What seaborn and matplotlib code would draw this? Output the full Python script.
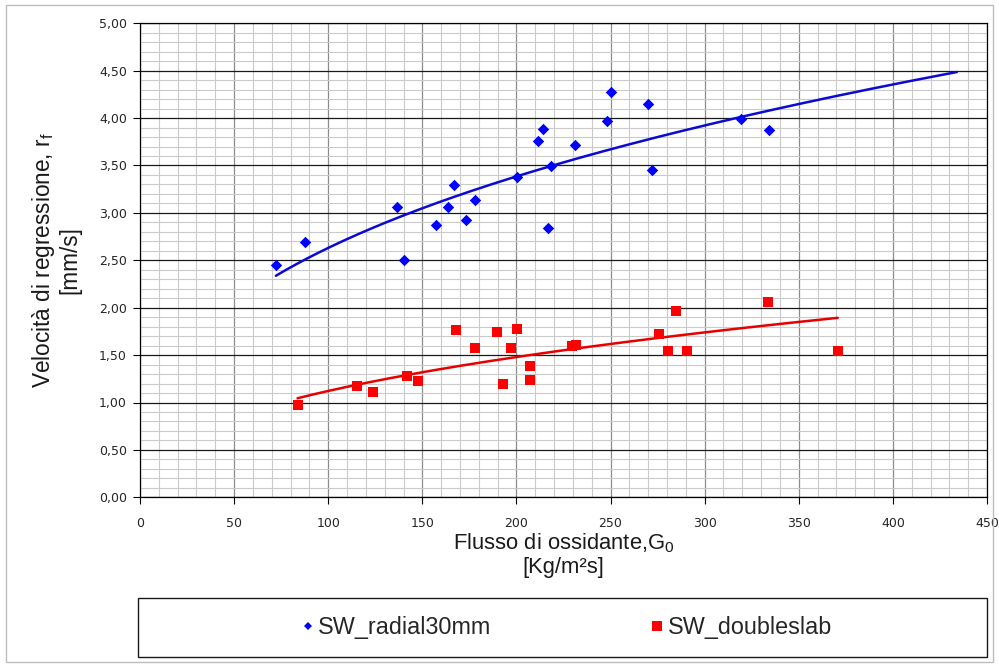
import numpy as np
import pandas as pd
import matplotlib
matplotlib.use("Agg")
import matplotlib.pyplot as plt
import seaborn as sns
from matplotlib.lines import Line2D
from matplotlib.patches import Rectangle
from matplotlib.ticker import MultipleLocator

# ---------------- data ----------------
radial_label = "SW_radial30mm"
radial_x = [72.2, 87.8, 136.3, 140.0, 157.0, 163.9, 166.9, 173.1, 178.0, 200.3, 211.2,
            214.0, 217.0, 218.1, 230.9, 248.0, 250.0, 269.9, 271.9, 319.2, 334.0]
radial_y = [2.45, 2.69, 3.06, 2.50, 2.87, 3.06, 3.29, 2.93, 3.14, 3.38, 3.76,
            3.88, 2.84, 3.49, 3.72, 3.97, 4.28, 4.15, 3.45, 3.99, 3.87]

slab_label = "SW_doubleslab"
slab_x = [83.7, 115.1, 123.7, 141.6, 147.8, 167.7, 177.9, 189.7, 192.9, 197.1, 200.1,
          207.1, 207.1, 229.3, 231.9, 275.8, 280.6, 284.8, 290.7, 333.7, 370.7]
slab_y = [0.97, 1.17, 1.11, 1.28, 1.23, 1.77, 1.58, 1.74, 1.19, 1.58, 1.78,
          1.38, 1.24, 1.60, 1.61, 1.72, 1.54, 1.97, 1.54, 2.06, 1.54]

# power-law trend lines (Excel style), forward forecast in x units
radial_forecast = 100
slab_forecast = 0

x_ticks = [0, 50, 100, 150, 200, 250, 300, 350, 400, 450]
x_tick_labels = ["0", "50", "100", "150", "200", "250", "300", "350", "400", "450"]
y_ticks = [0.0, 0.5, 1.0, 1.5, 2.0, 2.5, 3.0, 3.5, 4.0, 4.5, 5.0]
y_tick_labels = ["0,00", "0,50", "1,00", "1,50", "2,00", "2,50", "3,00", "3,50",
                 "4,00", "4,50", "5,00"]

x_label = "Flusso di ossidante,$\\mathregular{G_0}$\n[Kg/m²s]"
y_label = "Velocità di regressione, $\\mathregular{r_f}$\n[mm/s]"

# ---------------- style ----------------
sns.set_theme(style="white")
plt.rcParams["font.family"] = ["Liberation Sans", "DejaVu Sans"]

BLUE = "#0000ff"
BLUE_LINE = "#0a0ad2"
RED = "#ff0000"
RED_LINE = "#e80000"

fig = plt.figure(figsize=(9.99, 6.67), dpi=100)
ax = fig.add_axes([140 / 999, 1 - 497.3 / 667, 847 / 999, 474 / 667])

df_r = pd.DataFrame({"x": radial_x, "y": radial_y})
df_s = pd.DataFrame({"x": slab_x, "y": slab_y})


def power_trend(x, y, forecast):
    x = np.asarray(x, float)
    y = np.asarray(y, float)
    b, lna = np.polyfit(np.log(x), np.log(y), 1)
    xs = np.linspace(x.min(), x.max() + forecast, 200)
    return pd.DataFrame({"x": xs, "y": np.exp(lna) * xs ** b})


tr_r = power_trend(radial_x, radial_y, radial_forecast)
tr_s = power_trend(slab_x, slab_y, slab_forecast)

sns.lineplot(data=tr_r, x="x", y="y", ax=ax, color=BLUE_LINE, lw=1.8, zorder=3,
             estimator=None, sort=False)
sns.lineplot(data=tr_s, x="x", y="y", ax=ax, color=RED_LINE, lw=1.8, zorder=3,
             estimator=None, sort=False)
sns.scatterplot(data=df_r, x="x", y="y", ax=ax, marker="D", s=34, color=BLUE,
                linewidth=0, zorder=4)
sns.scatterplot(data=df_s, x="x", y="y", ax=ax, marker="s", s=62, color=RED,
                linewidth=0, zorder=4)

ax.set_xlim(0, 450)
ax.set_ylim(0, 5)
ax.set_xticks(x_ticks)
ax.set_xticklabels(x_tick_labels, fontfamily="DejaVu Sans", fontsize=9, color="#262626")
ax.set_yticks(y_ticks)
ax.set_yticklabels(y_tick_labels, fontfamily="DejaVu Sans", fontsize=9, color="#262626")
ax.xaxis.set_minor_locator(MultipleLocator(10))
ax.yaxis.set_minor_locator(MultipleLocator(0.1))

ax.tick_params(axis="both", which="major", direction="out", length=5, width=0.8,
               color="black", bottom=True, left=True)
ax.tick_params(axis="x", which="major", pad=9)
ax.tick_params(axis="y", which="major", pad=4.5)
ax.tick_params(which="minor", length=0)

ax.set_axisbelow(True)
ax.grid(which="minor", axis="both", color="#cacaca", lw=0.8)
ax.grid(which="major", axis="x", color="#8c8c8c", lw=0.9)
ax.grid(which="major", axis="y", color="#1a1a1a", lw=0.9)
for sp in ax.spines.values():
    sp.set_visible(True)
    sp.set_color("black")
    sp.set_linewidth(0.9)

ax.set_xlabel(x_label, fontsize=15.8, color="#1a1a1a", linespacing=1.1)
ax.set_ylabel(y_label, fontsize=16.3, color="#1a1a1a", linespacing=1.1,
              multialignment="center")
ax.xaxis.set_label_coords(0.5, -0.072)
ax.yaxis.set_label_coords(-0.069, 0.5)

# legend box
fig.add_artist(Rectangle((138 / 999, 1 - 657 / 667), 849 / 999, 59 / 667,
                         transform=fig.transFigure, fill=False,
                         edgecolor="#1a1a1a", lw=1.0))
handles = [
    Line2D([], [], ls="none", marker="D", markersize=4.2, color=BLUE, mew=0),
    Line2D([], [], ls="none", marker="s", markersize=6.5, color=RED, mew=0),
]
fig.legend(handles, [radial_label, slab_label], loc="center",
           bbox_to_anchor=((138 + 849 / 2 + 4.5) / 999, 1 - 627.5 / 667),
           ncol=2, frameon=False, fontsize=16.8, handlelength=0.5,
           handletextpad=0.2, columnspacing=6.85, borderpad=0, borderaxespad=0)

# outer chart frame
fig.add_artist(Rectangle((6 / 999, 1 - 662 / 667), 987 / 999, 657 / 667,
                         transform=fig.transFigure, fill=False,
                         edgecolor="#bdbdbd", lw=1.0))

fig.savefig("out.png", dpi=100)
